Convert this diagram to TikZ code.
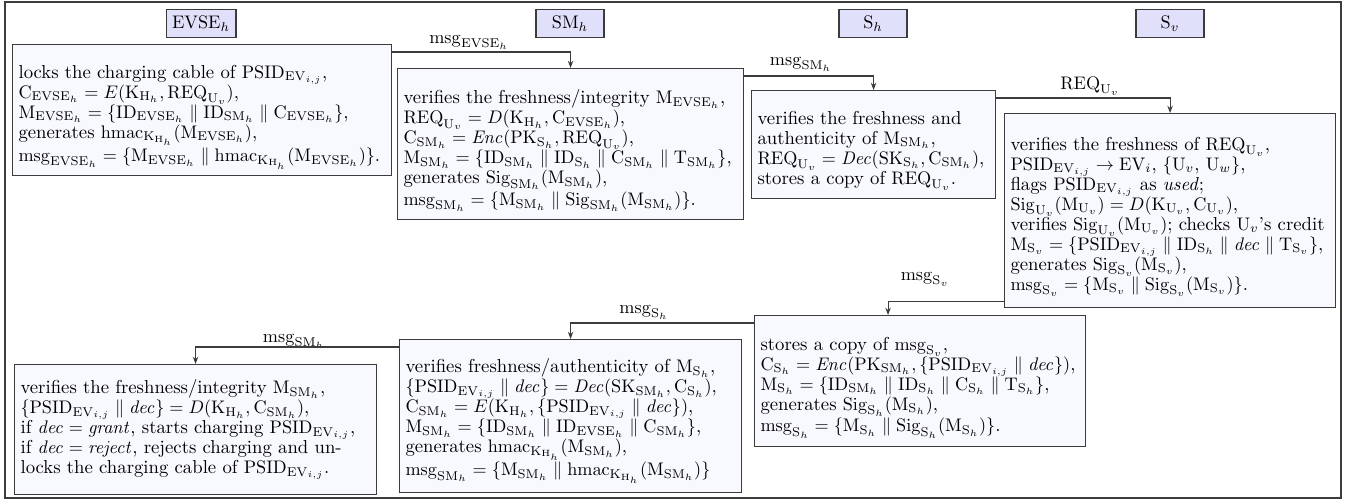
\documentclass[tikz,border=0pt]{standalone}
\usetikzlibrary{arrows.meta}
\newcommand{\xEVSE}{\mathrm{EVSE}_h}
\newcommand{\xSM}{\mathrm{SM}_h}
\newcommand{\xSh}{\mathrm{S}_h}
\newcommand{\xSv}{\mathrm{S}_v}
\newcommand{\xUv}{\mathrm{U}_v}
\newcommand{\xKH}{\mathrm{K}_{\mathrm{H}_h}}
\newcommand{\xPSID}{\mathrm{PSID}_{\mathrm{EV}_{i,j}}}
\newcommand{\xfont}{\fontsize{10.3}{11}\selectfont}
\newcommand{\xl}[1]{\mbox{#1}\\}
\newcommand{\xtop}[1]{\rule{0pt}{#1}}
\definecolor{boxfill}{RGB}{248,248,255}
\definecolor{headfill}{RGB}{224,224,250}
\definecolor{linegray}{RGB}{60,60,60}
\tikzset{
  stepbox/.style 2 args={draw=linegray, line width=0.6pt, fill=boxfill, inner sep=3.3pt,
    anchor=north west, align=left, text width={#1*0.55pt-6.6pt},
    minimum width={#1*0.55pt}, minimum height={#2*0.55pt}, font=\xfont},
  headbox/.style={draw=linegray, line width=0.6pt, fill=headfill, inner sep=3.3pt,
    minimum width={68*0.55pt}, minimum height={27*0.55pt}, font=\xfont},
  msglabel/.style={anchor=base, inner sep=0pt, font=\xfont},
  arr/.style={draw=linegray, line width=0.6pt, -{Stealth[length=4pt,width=3pt]}},
}
\begin{document}
\begin{tikzpicture}[x=0.55pt, y=-0.55pt]
\useasboundingbox (0,0) rectangle (1348,502);
\draw[linegray, line width=0.6pt] (5,2) rectangle (1341,498);

% headers
\node[headbox] (h1) at (201,23.5) {$\xEVSE$};
\node[headbox] (h2) at (570,23.5) {$\xSM$};
\node[headbox] (h3) at (873,23.5) {$\xSh$};
\node[headbox] (h4) at (1170,23.5) {$\xSv$};

% boxes
\node[stepbox={379}{131}] (b1) at (12,44) {%
\xl{\xtop{15pt}locks the charging cable of $\xPSID$,}
\xl{$\mathrm{C}_{\xEVSE} = E(\xKH, \mathrm{REQ}_{\xUv})$,}
\xl{$\mathrm{M}_{\xEVSE} = \{\mathrm{ID}_{\xEVSE} \parallel \mathrm{ID}_{\xSM} \parallel \mathrm{C}_{\xEVSE}\}$,}
\xl{generates $\mathrm{hmac}_{\xKH}(\mathrm{M}_{\xEVSE})$,}
\mbox{$\mathrm{msg}_{\xEVSE} = \{\mathrm{M}_{\xEVSE} \parallel \mathrm{hmac}_{\xKH}(\mathrm{M}_{\xEVSE})\}$.}};

\node[stepbox={346}{151}] (b2) at (397,68) {%
\xl{\xtop{15pt}verifies the freshness/integrity $\mathrm{M}_{\xEVSE}$,}
\xl{$\mathrm{REQ}_{\xUv} = D(\xKH, \mathrm{C}_{\xEVSE})$,}
\xl{$\mathrm{C}_{\xSM} = \mathit{Enc}(\mathrm{PK}_{\xSh}, \mathrm{REQ}_{\xUv})$,}
\xl{$\mathrm{M}_{\xSM} = \{\mathrm{ID}_{\xSM} \parallel \mathrm{ID}_{\xSh} \parallel \mathrm{C}_{\xSM} \parallel \mathrm{T}_{\xSM}\}$,}
\xl{generates $\mathrm{Sig}_{\xSM}(\mathrm{M}_{\xSM})$,}
\mbox{$\mathrm{msg}_{\xSM} = \{\mathrm{M}_{\xSM} \parallel \mathrm{Sig}_{\xSM}(\mathrm{M}_{\xSM})\}$.}};

\node[stepbox={244}{108}] (b3) at (751,90) {%
\xl{\xtop{14pt}verifies the freshness and}
\xl{authenticity of $\mathrm{M}_{\xSM}$,}
\xl{$\mathrm{REQ}_{\xUv} = \mathit{Dec}(\mathrm{SK}_{\xSh}, \mathrm{C}_{\xSM})$,}
\mbox{stores a copy of $\mathrm{REQ}_{\xUv}$.}};

\node[stepbox={331}{194}] (b4) at (1004,113) {%
\xl{\xtop{14pt}verifies the freshness of $\mathrm{REQ}_{\xUv}$,}
\xl{$\xPSID \rightarrow \mathrm{EV}_i$, $\{\mathrm{U}_v$, $\mathrm{U}_w\}$,}
\xl{flags $\xPSID$ as \textit{used};}
\xl{$\mathrm{Sig}_{\xUv}(\mathrm{M}_{\xUv}) = D(\mathrm{K}_{\xUv}, \mathrm{C}_{\xUv})$,}
\xl{verifies $\mathrm{Sig}_{\xUv}(\mathrm{M}_{\xUv})$; checks $\mathrm{U}_v$'s credit}
\xl{$\mathrm{M}_{\xSv} = \{\xPSID \parallel \mathrm{ID}_{\xSh} \parallel \mathit{dec} \parallel \mathrm{T}_{\xSv}\}$,}
\xl{generates $\mathrm{Sig}_{\xSv}(\mathrm{M}_{\xSv})$,}
\mbox{$\mathrm{msg}_{\xSv} = \{\mathrm{M}_{\xSv} \parallel \mathrm{Sig}_{\xSv}(\mathrm{M}_{\xSv})\}$.}};

\node[stepbox={331}{131}] (b5) at (754,315) {%
\xl{\xtop{14.5pt}stores a copy of $\mathrm{msg}_{\xSv}$,}
\xl{$\mathrm{C}_{\xSh} = \mathit{Enc}(\mathrm{PK}_{\xSM}, \{\xPSID \parallel \mathit{dec}\})$,}
\xl{$\mathrm{M}_{\xSh} = \{\mathrm{ID}_{\xSM} \parallel \mathrm{ID}_{\xSh} \parallel \mathrm{C}_{\xSh} \parallel \mathrm{T}_{\xSh}\}$,}
\xl{generates $\mathrm{Sig}_{\xSh}(\mathrm{M}_{\xSh})$,}
\mbox{$\mathrm{msg}_{\xSh} = \{\mathrm{M}_{\xSh} \parallel \mathrm{Sig}_{\xSh}(\mathrm{M}_{\xSh})\}$.}};

\node[stepbox={342}{153}] (b6) at (399,339) {%
\xl{\xtop{13pt}verifies freshness/authenticity of $\mathrm{M}_{\xSh}$,}
\xl{$\{\xPSID \parallel \mathit{dec}\} = \mathit{Dec}(\mathrm{SK}_{\xSM}, \mathrm{C}_{\xSh})$,}
\xl{$\mathrm{C}_{\xSM} = E(\xKH, \{\xPSID \parallel \mathit{dec}\})$,}
\xl{$\mathrm{M}_{\xSM} = \{\mathrm{ID}_{\xSM} \parallel \mathrm{ID}_{\xEVSE} \parallel \mathrm{C}_{\xSM}\}$,}
\xl{generates $\mathrm{hmac}_{\xKH}(\mathrm{M}_{\xSM})$,}
\mbox{$\mathrm{msg}_{\xSM} = \{\mathrm{M}_{\xSM} \parallel \mathrm{hmac}_{\xKH}(\mathrm{M}_{\xSM})\}$}};

\node[stepbox={362}{130}] (b7) at (14,364) {%
\xl{verifies the freshness/integrity $\mathrm{M}_{\xSM}$,}
\xl{$\{\xPSID \parallel \mathit{dec}\} = D(\xKH, \mathrm{C}_{\xSM})$,}
\xl{if $\mathit{dec} = \mathit{grant}$, starts charging $\xPSID$,}
\xl{if $\mathit{dec} = \mathit{reject}$, rejects charging and un-}
\mbox{locks the charging cable of $\xPSID$.}};

% connector labels
\node[msglabel] (l1) at (469,43) {$\mathrm{msg}_{\xEVSE}$};
\node[msglabel] (l2) at (801,65) {$\mathrm{msg}_{\xSM}$};
\node[msglabel] (l3) at (1090,89) {$\mathrm{REQ}_{\xUv}$};
\node[msglabel] (l4) at (925,280) {$\mathrm{msg}_{\xSv}$};
\node[msglabel] (l5) at (644,313) {$\mathrm{msg}_{\xSh}$};
\node[msglabel] (l6) at (294,342) {$\mathrm{msg}_{\xSM}$};

% connectors
\draw[arr] ([yshift=-8*0.55pt]b1.north east) -| (b2.north);
\draw[arr] ([yshift=-8*0.55pt]b2.north east) -| (b3.north);
\draw[arr] ([yshift=-8*0.55pt]b3.north east) -| (b4.north);
\draw[arr] ([yshift=7*0.55pt]b4.south west) -| ([xshift=-32*0.55pt]b5.north);
\draw[arr] ([yshift=-8*0.55pt]b5.north west) -| (b6.north);
\draw[arr] ([yshift=-8*0.55pt]b6.north west) -| (b7.north);
\end{tikzpicture}
\end{document}
